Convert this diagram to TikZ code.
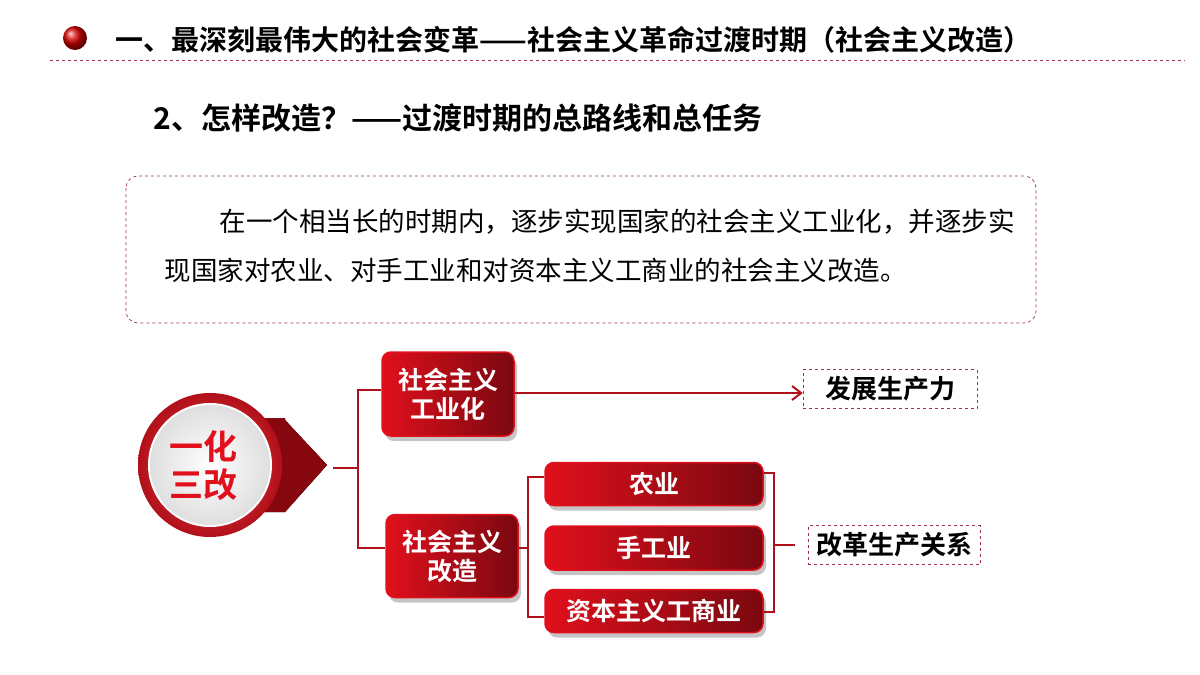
\documentclass[tikz,border=0pt]{standalone}
\usepackage{fontspec}
\setmainfont{Noto Sans CJK SC}
\newfontfamily\cjkb{Noto Sans CJK SC Bold}
\usetikzlibrary{shadows,arrows.meta,calc}
\definecolor{dr}{HTML}{B0101A}
\definecolor{br}{HTML}{E0101C}
\definecolor{dk}{HTML}{7A0810}
\definecolor{pk}{HTML}{A03050}
\tikzset{
 redbox/.style={rounded corners=9pt,left color=br,right color=dk,draw=br,line width=1.5pt,
   text=white,font=\cjkb\fontsize{25}{29}\selectfont,align=center,
   drop shadow={shadow xshift=3pt,shadow yshift=-5pt,fill=black!45,opacity=.5}},
 dbox/.style={draw=pk,dashed,line width=0.6pt,font=\cjkb\fontsize{26}{30}\selectfont,text=black},
 link/.style={draw=dr,line width=1.8pt}
}
\begin{document}
\begin{tikzpicture}[x=1pt,y=-1pt]
\useasboundingbox (0,0) rectangle (1200,675);
% header
\shade[ball color=red!85!black] (75,38) circle (12);
\node[anchor=west,font=\cjkb\fontsize{28}{30}\selectfont] (title) at (112,40) {一、最深刻最伟大的社会变革——社会主义革命过渡时期（社会主义改造）};
\draw[pk,dashed,line width=0.8pt] (50,60) -- (1185,60);
\node[anchor=west,font=\cjkb\fontsize{30}{32}\selectfont] (sub) at (150,118) {2、怎样改造？——过渡时期的总路线和总任务};
\draw[pk,dashed,rounded corners=12pt,line width=0.7pt] (126,176) rectangle (1036,323);
\node[anchor=west,font=\fontsize{26.5}{30}\selectfont] (l1) at (216,222) {在一个相当长的时期内，逐步实现国家的社会主义工业化，并逐步实};
\node[anchor=west,font=\fontsize{26.5}{30}\selectfont] (l2) at (161,270) {现国家对农业、对手工业和对资本主义工商业的社会主义改造。};
% circle + arrow
\fill[left color=dk!80!red,right color=dk] (230,418) -- (285,418) -- (285,420) -- (327,465) -- (285,512) -- (230,512) -- cycle;
\fill[dk!90!red] (285,420) -- (327,465) -- (285,512) -- cycle;
\shade[inner color=red!70,outer color=dr] (210,465) circle (72);
\fill[white] (210,465) circle (62);
\shade[inner color=white,outer color=gray!25] (210,465) circle (60);
\node[text=br,font=\cjkb\fontsize{34}{38}\selectfont,align=center] (c) at (203,466) {一化\\三改};
\coordinate (ctip) at (333,468);
% boxes
\node[redbox,minimum width=132pt,minimum height=84pt] (b1) at (448,394) {社会主义\\工业化};
\node[redbox,minimum width=132pt,minimum height=83pt] (b2) at (452,556) {社会主义\\改造};
\node[dbox,minimum width=174pt,minimum height=39pt] (p1) at (890,389) {发展生产力};
\node[dbox,minimum width=172pt,minimum height=39pt] (p2) at (894,545) {改革生产关系};
\node[redbox,minimum width=218pt,minimum height=43pt] (n1) at (654,484) {农业};
\node[redbox,minimum width=218pt,minimum height=44pt] (n2) at (654,548) {手工业};
\node[redbox,minimum width=218pt,minimum height=43pt] (n3) at (654,611) {资本主义工商业};
% connectors
\draw[link] (ctip) -- (358,468);
\draw[link] (b1.west |- 0,390) -- (358,390) -- (358,548) -- (b2.west |- 0,548);
\draw[link,-{Straight Barb[length=9pt,width=14pt,line width=2pt]}] (b1.east |- 0,393) -- (p1.west |- 0,393);
\draw[link] (b2.east |- 0,548) -- (528,548);
\draw[link] (n1.west |- 0,477) -- (528,477) -- (528,617) -- (n3.west |- 0,617);
\draw[link] (n1.east |- 0,473) -- (774,473) -- (774,612) -- (n3.east |- 0,612);
\draw[link] (774,545) -- (p2.west -| 795,0);
\end{tikzpicture}
\end{document}
